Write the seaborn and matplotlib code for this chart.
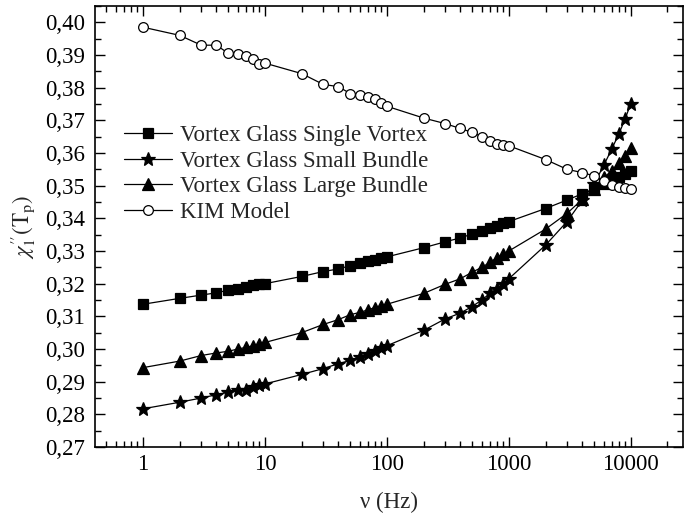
import numpy as np
import pandas as pd
import matplotlib
matplotlib.use('Agg')
import matplotlib.pyplot as plt
import matplotlib.ticker as mticker
import seaborn as sns

# Frequencies (Hz)
freq = [1, 2, 3, 4, 5, 6, 7, 8, 9,
        10, 20, 30, 40, 50, 60, 70, 80, 90,
        100, 200, 300, 400, 500, 600, 700, 800, 900,
        1000, 2000, 3000, 4000, 5000, 6000, 7000, 8000, 9000, 10000]

single_vortex = [0.3137, 0.3155, 0.3165, 0.3172, 0.3180, 0.3185, 0.3190, 0.3195, 0.3198,
                 0.3200, 0.3222, 0.3237, 0.3245, 0.3255, 0.3262, 0.3268, 0.3273, 0.3278,
                 0.3282, 0.3310, 0.3328, 0.3340, 0.3352, 0.3360, 0.3370, 0.3378, 0.3385,
                 0.3390, 0.3430, 0.3456, 0.3475, 0.3490, 0.3505, 0.3515, 0.3525, 0.3535, 0.3546]

small_bundle = [0.2817, 0.2837, 0.2850, 0.2860, 0.2868, 0.2873, 0.2875, 0.2885, 0.2890,
                0.2893, 0.2922, 0.2940, 0.2955, 0.2965, 0.2975, 0.2985, 0.2995, 0.3002,
                0.3010, 0.3057, 0.3092, 0.3110, 0.3130, 0.3150, 0.3170, 0.3185, 0.3200,
                0.3215, 0.3318, 0.3390, 0.3455, 0.3505, 0.3562, 0.3613, 0.3659, 0.3705, 0.3751]

large_bundle = [0.2943, 0.2963, 0.2980, 0.2988, 0.2993, 0.3000, 0.3005, 0.3010, 0.3015,
                0.3020, 0.3050, 0.3075, 0.3090, 0.3105, 0.3112, 0.3120, 0.3127, 0.3132,
                0.3137, 0.3170, 0.3198, 0.3215, 0.3235, 0.3250, 0.3265, 0.3280, 0.3290,
                0.3300, 0.3367, 0.3415, 0.3458, 0.3490, 0.3525, 0.3545, 0.3570, 0.3592, 0.3615]

kim_model = [0.3985, 0.3960, 0.3930, 0.3930, 0.3905, 0.3902, 0.3897, 0.3887, 0.3872,
             0.3875, 0.3843, 0.3810, 0.3803, 0.3782, 0.3778, 0.3772, 0.3765, 0.3752,
             0.3743, 0.3707, 0.3690, 0.3675, 0.3663, 0.3650, 0.3637, 0.3628, 0.3625,
             0.3622, 0.3580, 0.3550, 0.3540, 0.3530, 0.3515, 0.3502, 0.3497, 0.3493, 0.3490]

labels = ['Vortex Glass Single Vortex', 'Vortex Glass Small Bundle',
          'Vortex Glass Large Bundle', 'KIM Model']
series = [single_vortex, small_bundle, large_bundle, kim_model]
markers = ['s', '*', '^', 'o']
msizes = [7, 10, 8, 7]
faces = ['black', 'black', 'black', 'white']

sns.set_style('ticks')
plt.rcParams['font.family'] = ['Liberation Serif', 'DejaVu Serif']
plt.rcParams['mathtext.fontset'] = 'stix'

fig = plt.figure(figsize=(6.84, 5.2), dpi=100)
ax = fig.add_axes([0.139, 0.1404, 0.8595, 0.8481])

for vals, lab, m, ms, fc in zip(series, labels, markers, msizes, faces):
    df = pd.DataFrame({'freq': freq, 'chi': vals})
    sns.lineplot(data=df, x='freq', y='chi', ax=ax, color='black', lw=0.9,
                 marker=m, markersize=ms, markerfacecolor=fc,
                 markeredgecolor='black', markeredgewidth=0.9, label=lab)

ax.set_xscale('log')
ax.set_xlim(0.404, 26800)
ax.set_ylim(0.27, 0.405)

ax.xaxis.set_major_locator(mticker.FixedLocator([1, 10, 100, 1000, 10000]))
ax.xaxis.set_major_formatter(mticker.FixedFormatter(['1', '10', '100', '1000', '10000']))
ax.xaxis.set_minor_locator(mticker.LogLocator(base=10, subs=np.arange(2, 10), numticks=20))
ax.xaxis.set_minor_formatter(mticker.NullFormatter())

yt = np.round(np.arange(0.27, 0.4001, 0.01), 2)
ax.yaxis.set_major_locator(mticker.FixedLocator(yt))
ax.yaxis.set_major_formatter(mticker.FuncFormatter(lambda v, p: f'{v:.2f}'.replace('.', ',')))
ax.yaxis.set_minor_locator(mticker.MultipleLocator(0.005))

ax.tick_params(which='both', direction='in', top=True, right=True, colors='black')
ax.tick_params(which='major', length=7.5, width=1.0, labelsize=16.5)
ax.tick_params(which='minor', length=4, width=1.0)
ax.tick_params(axis='y', which='major', pad=7)
ax.tick_params(axis='x', which='major', pad=5)

for sp in ax.spines.values():
    sp.set_linewidth(1.2)
    sp.set_color('black')

ax.set_xlabel('ν (Hz)', fontsize=16.5, labelpad=12)
ax.set_ylabel(r"$\chi^{\prime\prime}_{1}(\mathrm{T_p})$", fontsize=16.5, labelpad=5)

ax.legend(loc='upper left', bbox_to_anchor=(0.049, 0.73), frameon=False,
          fontsize=16.5, handlelength=2.1, handletextpad=0.35, labelspacing=0.2,
          borderaxespad=0, borderpad=0)

fig.savefig('out.png', dpi=100)
